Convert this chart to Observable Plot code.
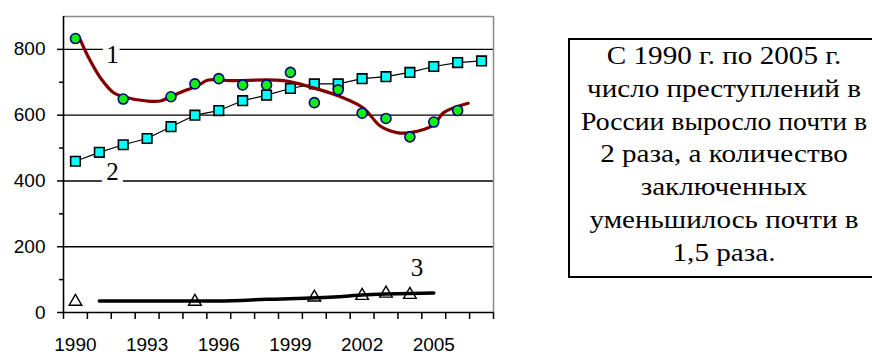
<!DOCTYPE html>
<html><head><meta charset="utf-8">
<script src="https://cdn.jsdelivr.net/npm/d3@7"></script>
<script src="https://cdn.jsdelivr.net/npm/@observablehq/plot@0.6"></script>
<style>
html,body{margin:0;padding:0;background:#fff;overflow:hidden;width:872px;height:354px}
#wrap{position:relative;width:872px;height:354px;overflow:hidden}
#chart svg{display:block}
#note{position:absolute;left:568px;top:38px;width:330px;height:240px;border:2px solid #000;border-right:none;box-sizing:border-box;padding-top:0;
  font-family:"Liberation Serif","Times New Roman","DejaVu Serif",serif;font-size:26px;line-height:32.8px;color:#000;background:#fff}
#note .ln{display:flex;justify-content:center;white-space:nowrap;width:308px;transform:scaleX(1.12);transform-origin:50% 50%}
#note .ln.wide{transform:scaleX(1.065)}
</style></head><body>
<div id="wrap"><div id="chart"></div><div id="note"></div></div>
<script>
// Series 1: crimes — green circles
const crimeYears  = [1990,1992,1994,1995,1996,1997,1998,1999,2000,2001,2002,2003,2004,2005,2006];
const crimeValues = [833, 649, 656, 695, 711, 692, 692, 730, 638, 677, 606, 590, 534, 579, 614];
// Smoothed trend of series 1 (dark red curve)
const crimeTrendYears  = [1990.2,1990.56,1991.05,1991.6,1992.0,1993.0,1993.56,1993.97,1994.67,1995.1,1995.56,1996.5,1998.7,1999.96,2001.1,2002.05,2002.76,2003.46,2004.0,2005.0,2005.4,2006.44];
const crimeTrendValues = [830,   774,    713,    668,   656,   643,   643,    656,    677,    689,   707,    705,   705,   683,    656,   622,    567,    547,    547,   571,   607,   636];
// Series 2: cyan squares
const series2Years  = [1990,1991,1992,1993,1994,1995,1996,1997,1998,1999,2000,2001,2002,2003,2004,2005,2006,2007];
const series2Values = [460, 487, 510, 529, 565, 600, 614, 644, 661, 681, 695, 695, 711, 717, 730, 748, 760, 765];
// Series 3: prisoners — open triangles
const series3Years  = [1990,1995,2000,2002,2003,2004];
const series3Values = [33,  33,  46,  51,  58,  54];
// Trend of series 3 (thick black line)
const series3TrendYears  = [1991,1996,1998,2001,2002,2003,2004,2005];
const series3TrendValues = [35,  35,  40,  48,  53,  56,  58,  59];
// Axes
const yMajorTicks = [0,200,400,600,800];
const yMinorTicks = [100,300,500,700];
const gridValues  = [200,400,600,800];
const xLabelYears = [1990,1993,1996,1999,2002,2005];
const firstYear = 1990, lastYear = 2007, yMax = 900;
// Series labels
const seriesLabels      = ["1","2","3"];
const seriesLabelYears  = [1991.55,1991.55,2004.3];
const seriesLabelValues = [784,427,135];
// Note text
const noteLines = ["С 1990 г. по 2005 г.","число преступлений в","России выросло почти в","2 раза, а количество","заключенных","уменьшилось почти в","1,5 раза."];

const zip = (xs, ys) => xs.map((x, i) => ({x, y: ys[i]}));
const crimes = zip(crimeYears, crimeValues);
const crimeTrend = zip(crimeTrendYears, crimeTrendValues);
const s2 = zip(series2Years, series2Values);
const s3 = zip(series3Years, series3Values);
const s3Trend = zip(series3TrendYears, series3TrendValues);
const labels = seriesLabels.map((t, i) => ({t, x: seriesLabelYears[i], y: seriesLabelValues[i]}));
const xMin = firstYear - 0.5, xMax = lastYear + 0.5;
const xBoundaryTicks = d3.range(xMin, xMax + 0.01, 1);
const serif = "'Liberation Serif', 'Times New Roman', 'DejaVu Serif', serif";

const chart = Plot.plot({
  width: 872, height: 354,
  marginLeft: 63, marginRight: 379, marginTop: 16, marginBottom: 42,
  style: {fontFamily: "'Liberation Sans', Arial, sans-serif", fontSize: "19px", color: "#000", background: "#fff"},
  x: {domain: [xMin, xMax]},
  y: {domain: [0, yMax]},
  marks: [
    Plot.ruleY(gridValues, {stroke: "#000", strokeWidth: 1.4}),
    Plot.ruleY([yMax], {stroke: "#8a8a8a", strokeWidth: 1.5}),
    Plot.ruleX([xMax], {stroke: "#8a8a8a", strokeWidth: 1.5}),
    Plot.axisY({ticks: yMajorTicks, tickSize: 6, tickPadding: 12, tickFormat: d => String(d), label: null, strokeWidth: 1.5}),
    Plot.axisY({ticks: yMinorTicks, tickSize: 4, tickFormat: () => "", label: null, strokeWidth: 1.5}),
    Plot.axisX({ticks: xBoundaryTicks, tickSize: 7, tickFormat: () => "", label: null, strokeWidth: 1.5}),
    Plot.axisX({ticks: xLabelYears, tickSize: 0, tickPadding: 25, tickFormat: d => String(d), label: null}),
    Plot.ruleX([xMin], {stroke: "#000", strokeWidth: 1.6}),
    Plot.ruleY([0], {stroke: "#000", strokeWidth: 1.6}),
    Plot.text(labels, {x: "x", y: "y", text: "t", fontFamily: serif, fontSize: 25,
      fill: "#000", stroke: "#fff", strokeWidth: 11, paintOrder: "stroke"}),
    // series 2
    Plot.line(s2, {x: "x", y: "y", stroke: "#000", strokeWidth: 1.2}),
    Plot.dot(s2, {x: "x", y: "y", symbol: "square", r: 5.4, fill: "#00FFFF", stroke: "#000", strokeWidth: 1.6}),
    // series 1
    Plot.line(crimeTrend, {x: "x", y: "y", curve: "catmull-rom", stroke: "#800000", strokeWidth: 3.2}),
    Plot.dot(crimes, {x: "x", y: "y", r: 5, fill: "#11EE11", stroke: "#000080", strokeWidth: 1.6}),
    // series 3
    Plot.dot(s3, {x: "x", y: "y", symbol: "triangle", r: 4.7, fill: "#fff", stroke: "#000", strokeWidth: 1.4}),
    Plot.line(s3Trend, {x: "x", y: "y", curve: "monotone-x", stroke: "#000", strokeWidth: 3.5})
  ]
});
document.getElementById("chart").appendChild(chart);

const note = document.getElementById("note");
noteLines.forEach((t, i) => {
  const d = document.createElement("div");
  d.className = i === 2 ? "ln wide" : "ln";
  d.textContent = t;
  note.appendChild(d);
});
</script>
</body></html>
